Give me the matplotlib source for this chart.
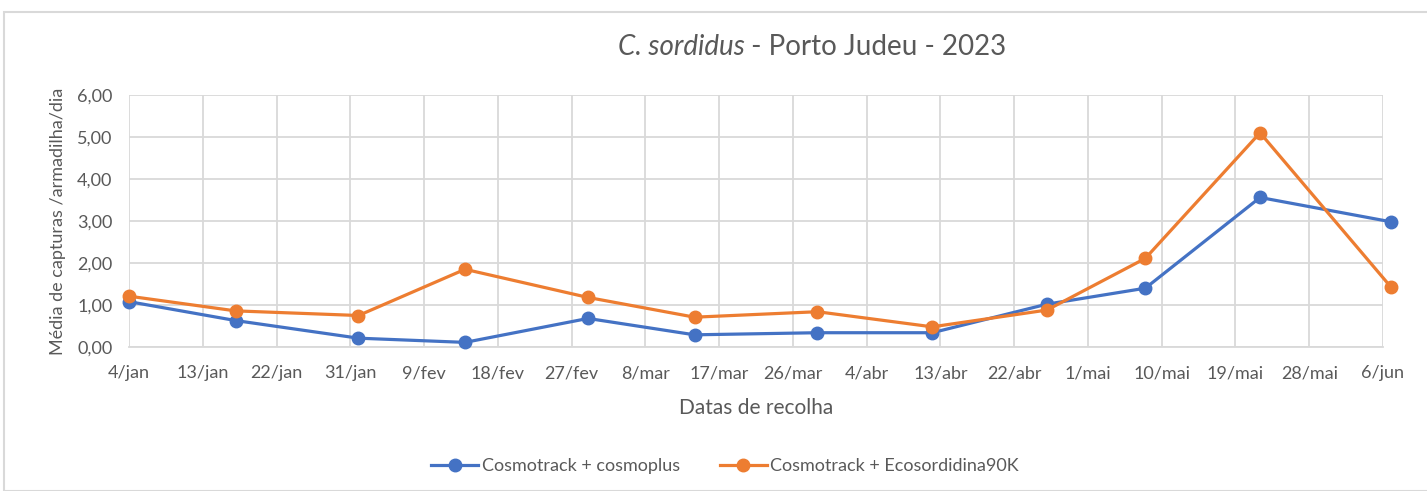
import matplotlib
matplotlib.use('Agg')
import matplotlib.pyplot as plt
from matplotlib.patches import Rectangle
import pandas as pd

plt.rcParams['font.family'] = ['Lato', 'DejaVu Sans']

# dados
datas = ['2023-01-04', '2023-01-17', '2023-02-01', '2023-02-14', '2023-03-01', '2023-03-14',
         '2023-03-29', '2023-04-12', '2023-04-26', '2023-05-08', '2023-05-22', '2023-06-07']
cosmoplus = [1.08, 0.63, 0.21, 0.11, 0.68, 0.29, 0.34, 0.34, 1.02, 1.40, 3.56, 2.98]
ecosordidina = [1.21, 0.86, 0.75, 1.85, 1.18, 0.71, 0.84, 0.48, 0.88, 2.11, 5.10, 1.42]
nomes = ['Cosmotrack + cosmoplus', 'Cosmotrack + Ecosordidina90K']
cores = ['#4472C4', '#ED7D31']

tick_inicio = '2023-01-04'
tick_fim = '2023-06-06'
tick_labels = ['4/jan', '13/jan', '22/jan', '31/jan', '9/fev', '18/fev', '27/fev', '8/mar', '17/mar',
               '26/mar', '4/abr', '13/abr', '22/abr', '1/mai', '10/mai', '19/mai', '28/mai', '6/jun']
y_ticks = [0, 1, 2, 3, 4, 5, 6]

datas = pd.to_datetime(datas)
ticks = pd.date_range(tick_inicio, tick_fim, freq='9D')

fig = plt.figure(figsize=(14.27, 4.91), dpi=100)
fig.patches.append(Rectangle((4 / 1427, 0), 1.0, 1 - 12 / 491, transform=fig.transFigure,
                             fill=False, edgecolor='#D9D9D9', linewidth=1.5))

ax = fig.add_axes([129 / 1427, 1 - 347 / 491, (1383 - 129) / 1427, (347 - 95) / 491])

for serie, nome, cor in zip([cosmoplus, ecosordidina], nomes, cores):
    ax.plot(datas, serie, color=cor, linewidth=2.3, marker='o', markersize=9,
            label=nome, clip_on=False, zorder=3)

ax.set_xlim(ticks[0], ticks[-1])
ax.set_ylim(0, 6)
ax.set_xticks(ticks)
ax.set_xticklabels(tick_labels)
ax.set_yticks(y_ticks)
ax.yaxis.set_major_formatter(plt.FuncFormatter(lambda v, p: ('%.2f' % v).replace('.', ',')))
ax.grid(True, color='#D9D9D9', linewidth=1.3)
ax.set_axisbelow(True)
for s in ax.spines.values():
    s.set_visible(False)
ax.spines['bottom'].set_visible(True)
ax.spines['bottom'].set_color('#D9D9D9')
ax.spines['bottom'].set_linewidth(1.3)
ax.tick_params(length=0, labelsize=13, colors='#595959')
ax.tick_params(axis='x', pad=13)
ax.tick_params(axis='y', pad=12)

ax.set_ylabel('Média de capturas /armadilha/dia', fontsize=13, color='#595959', labelpad=8)
ax.set_xlabel('Datas de recolha', fontsize=15, color='#595959', labelpad=12)

# titulo com parte em italico
yt = 1 - 47 / 491
t1 = fig.text(0, yt, 'C. sordidus', fontsize=20, style='italic', color='#595959', va='center')
t2 = fig.text(0, yt, ' - Porto Judeu - 2023', fontsize=20, color='#595959', va='center')
fig.canvas.draw()
r = fig.canvas.get_renderer()
w1 = t1.get_window_extent(r).width / 1427
w2 = t2.get_window_extent(r).width / 1427
x0 = 812 / 1427 - (w1 + w2) / 2
t1.set_x(x0)
t2.set_x(x0 + w1)

fig.legend(loc='center', bbox_to_anchor=(725 / 1427, 1 - 466 / 491), ncol=2, frameon=False,
           fontsize=13, handlelength=2.6, handletextpad=0.2, columnspacing=2.2, labelcolor='#595959')

plt.savefig('out.png')
